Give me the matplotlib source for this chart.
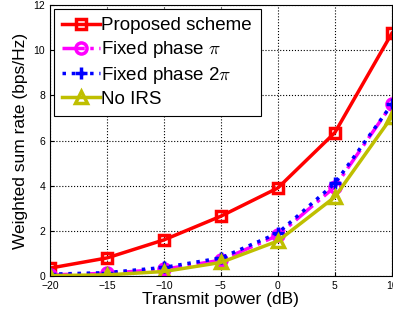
import numpy as np
import matplotlib
matplotlib.use('Agg')
import matplotlib.pyplot as plt

plt.rcParams['font.family'] = ['Liberation Sans', 'DejaVu Sans']
plt.rcParams['mathtext.fontset'] = 'cm'

power_db = [-20, -15, -10, -5, 0, 5, 10]
proposed = [0.35, 0.8, 1.6, 2.65, 3.9, 6.35, 10.75]
fixed_pi = [0.05, 0.12, 0.3, 0.7, 1.8, 3.95, 7.6]
fixed_2pi = [0.08, 0.15, 0.38, 0.8, 1.9, 4.1, 7.6]
no_irs = [0.02, 0.05, 0.2, 0.6, 1.55, 3.5, 7.05]

xticks = [-20, -15, -10, -5, 0, 5, 10]
yticks = [0, 2, 4, 6, 8, 10, 12]

fig = plt.figure(figsize=(3.93, 3.18), dpi=100)
ax = fig.add_axes([0.127, 0.132, 0.87, 0.852])

ax.plot(power_db, proposed, color='red', lw=2.5, marker='s', ms=7,
        mfc='none', mew=2.5, label='Proposed scheme')
ax.plot(power_db, fixed_pi, color='magenta', lw=2.5, ls='-.', marker='o', ms=8,
        mfc='none', mew=2.5, label=r'Fixed phase $\pi$')
ax.plot(power_db, fixed_2pi, color='blue', lw=2.5, ls=':', marker='+', ms=9,
        mew=2.5, label=r'Fixed phase 2$\pi$')
ax.plot(power_db, no_irs, color=(0.75, 0.75, 0), lw=2.5, marker='^', ms=8,
        mfc='none', mew=2.5, label='No IRS')

ax.set_xlim(-20, 10)
ax.set_ylim(0, 12)
ax.set_xticks(xticks)
ax.set_yticks(yticks)
ax.tick_params(labelsize=7.5, direction='in', length=3)
ax.grid(True, ls=':', color='black', lw=0.8)
ax.set_xlabel('Transmit power (dB)', fontsize=12.5, labelpad=1)
ax.set_ylabel('Weighted sum rate (bps/Hz)', fontsize=12.5, labelpad=4)

leg = ax.legend(loc='upper left', fontsize=13.5, handlelength=2.0, handletextpad=0.1,
                borderaxespad=0.2, labelspacing=0.25, fancybox=False,
                framealpha=1, edgecolor='black', borderpad=0.45)
leg.get_frame().set_linewidth(0.8)

fig.savefig('out.png', dpi=100)
